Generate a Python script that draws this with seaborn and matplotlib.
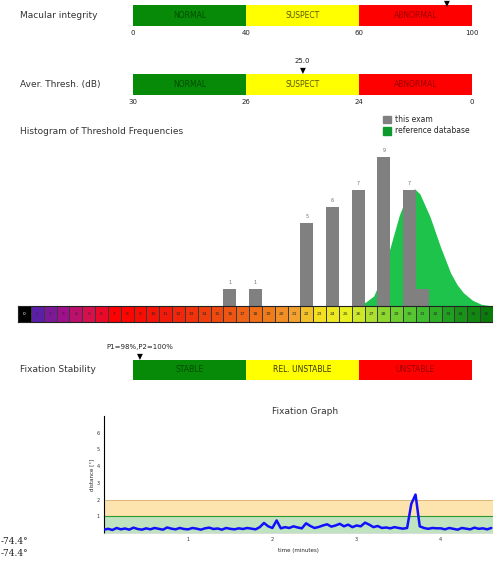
import numpy as np
import seaborn as sns
import matplotlib.pyplot as plt
from matplotlib.colors import LinearSegmentedColormap
from matplotlib.patches import Patch

sns.set_theme(style="white")
plt.rcParams['font.family'] = ['DejaVu Sans']

W, H = 493, 565

macular_ticks = [0, 40, 60, 100]
macular_value = 91
thresh_ticks = [30, 26, 24, 0]
thresh_value = 25.0
stab_ticks = [0, 1, 2, 3]
stab_value = 0.06
stab_text = "P1=98%,P2=100%"

bar_db = [16, 18, 22, 24, 26, 28, 30, 31]
bar_counts = [1, 1, 5, 6, 7, 9, 7, 1]
bar_labels = ["1", "1", "5", "6", "7", "9", "7", ""]

ref_db = [26.0, 26.6, 27.2, 27.6, 28.0, 28.4, 28.8, 29.2, 29.6, 30.0, 30.4, 30.8,
          31.2, 31.6, 32.0, 32.4, 32.8, 33.2, 33.7, 34.2, 34.9, 35.6, 36.5]
ref_h = [0.0, 0.25, 0.6, 1.3, 2.3, 3.3, 4.4, 5.5, 6.3, 6.9, 7.1, 6.8,
         6.1, 5.4, 4.5, 3.6, 2.8, 2.0, 1.3, 0.8, 0.35, 0.1, 0.0]

strip_values = list(range(37))

fix_t = [round(0.05 * i, 2) for i in range(93)]
fix_d = [0.20, 0.25, 0.18, 0.30, 0.22, 0.27, 0.20, 0.32, 0.24, 0.20,
         0.28, 0.22, 0.30, 0.25, 0.20, 0.33, 0.26, 0.22, 0.30, 0.24,
         0.22, 0.30, 0.26, 0.20, 0.28, 0.32, 0.24, 0.27, 0.20, 0.30,
         0.25, 0.22, 0.28, 0.24, 0.30, 0.26, 0.22, 0.35, 0.60, 0.40,
         0.30, 0.75, 0.28, 0.35, 0.30, 0.40, 0.33, 0.28, 0.58, 0.42,
         0.30, 0.36, 0.45, 0.52, 0.38, 0.45, 0.55, 0.40, 0.50, 0.35,
         0.45, 0.40, 0.62, 0.50, 0.35, 0.42, 0.30, 0.33, 0.28, 0.35,
         0.30, 0.26, 0.30, 1.75, 2.30, 0.40, 0.30, 0.25, 0.30, 0.28,
         0.28, 0.22, 0.30, 0.25, 0.20, 0.30, 0.26, 0.22, 0.32, 0.25,
         0.28, 0.22, 0.30]


def rect(x0, y0, x1, y1):
    return [x0 / W, 1 - y1 / H, (x1 - x0) / W, (y1 - y0) / H]


fig = plt.figure(figsize=(W / 100, H / 100), dpi=100)


def scale_bar(y0, y1, title, ticks, seg_text, seg_tcolors, value, vlabel=None):
    ax = fig.add_axes(rect(133, y0, 472, y1))
    cols = ['#078a07', '#ffff00', '#ff0000']
    for i in range(3):
        ax.barh(0, 1 / 3, left=i / 3, height=1, color=cols[i], edgecolor='none')
        ax.text(i / 3 + 1 / 6, 0, seg_text[i], ha='center', va='center',
                fontsize=5.5, color=seg_tcolors[i])
    ax.set_xlim(0, 1)
    ax.set_ylim(-0.5, 0.5)
    ax.axis('off')
    pos = [0, 1 / 3, 2 / 3, 1]
    if ticks is not None:
        for p, t in zip(pos, ticks):
            fig.text((133 + 339 * p) / W, 1 - (y1 + 7) / H, str(t),
                     ha='center', va='center', fontsize=5, color='#222222')
    tv = list(ticks) if ticks is not None else [0, 1, 2, 3]
    if tv[0] > tv[-1]:
        xp = np.interp(value, tv[::-1], pos[::-1])
    else:
        xp = np.interp(value, tv, pos)
    mx = (133 + 339 * xp) / W
    my = max(y0 - 3, 4)
    fig.text(mx, 1 - my / H, u'\u25BC', ha='center', va='center',
             fontsize=5.5, color='black')
    if vlabel:
        fig.text(mx, 1 - (y0 - 13) / H, vlabel, ha='center', va='center',
                 fontsize=5, color='#222222')
    fig.text(20 / W, 1 - ((y0 + y1) / 2) / H, title, ha='left', va='center',
             fontsize=6.5, color='#333333')


scale_bar(5, 26, "Macular integrity", macular_ticks,
          ["NORMAL", "SUSPECT", "ABNORMAL"], ['#004d00', '#5a5a00', '#9a0000'],
          macular_value)
scale_bar(74, 95, "Aver. Thresh. (dB)", thresh_ticks,
          ["NORMAL", "SUSPECT", "ABNORMAL"], ['#004d00', '#5a5a00', '#9a0000'],
          thresh_value, "%.1f" % thresh_value)
scale_bar(360, 380, "Fixation Stability", None,
          ["STABLE", "REL. UNSTABLE", "UNSTABLE"], ['#004d00', '#3a3a00', '#9a0000'],
          stab_value, stab_text)

# --- histogram ---
fig.text(20 / W, 1 - 131 / H, "Histogram of Threshold Frequencies",
         ha='left', va='center', fontsize=6.5, color='#333333')
ax = fig.add_axes(rect(18, 140, 493, 306))
ax.fill_between(ref_db, ref_h, color='#1ec34c', lw=0, zorder=1)
sns.barplot(x=bar_db, y=bar_counts, native_scale=True, width=1.0,
            color='#808080', saturation=1, linewidth=0, edgecolor='none',
            ax=ax, zorder=2)
for d, c, l in zip(bar_db, bar_counts, bar_labels):
    ax.text(d, c + 0.25, l, ha='center', va='bottom', fontsize=3.5, color='#707070')
ax.set_xlim(-0.5, 36.5)
ax.set_ylim(0, 10.06)
ax.axis('off')

fig.legend(handles=[Patch(color='#808080', label='this exam'),
                    Patch(color='#0c9a2c', label='reference database')],
           loc='upper left', bbox_to_anchor=(380 / W, 1 - 112 / H),
           frameon=False, fontsize=5.5, handlelength=1.0, handleheight=1.2,
           handletextpad=0.5, labelspacing=0.3, borderaxespad=0)

# --- colour strip ---
anchors = [(0, '#000000'), (1, '#5b1fa8'), (3, '#a0108a'), (5, '#d8104a'),
           (7, '#ff0000'), (11, '#f21a0a'), (15, '#ee4a10'), (19, '#f07a18'),
           (21, '#f2a030'), (23, '#f4e020'), (25, '#e8f020'), (27, '#b0e030'),
           (29, '#70d030'), (31, '#40c030'), (33, '#20a020'), (36, '#0a7a0a')]
cmap = LinearSegmentedColormap.from_list('maia', [(p / 36, c) for p, c in anchors])
sax = fig.add_axes(rect(18, 306, 493, 322))
sns.heatmap(np.array(strip_values).reshape(1, -1), cmap=cmap, vmin=0, vmax=36,
            cbar=False, annot=True, fmt='d', linewidths=0.5, linecolor='#3a3a3a',
            annot_kws={'fontsize': 3.2, 'color': '#2a2a2a'}, ax=sax)
sax.texts[0].set_color('white')
sax.set_xticks([])
sax.set_yticks([])
for s in sax.spines.values():
    s.set_visible(True)
    s.set_color('#222222')
    s.set_linewidth(0.8)

# --- fixation graph ---
fig.text(305 / W, 1 - 412 / H, "Fixation Graph", ha='center', va='center',
         fontsize=6.5, color='#333333')
fax = fig.add_axes(rect(104, 416, 493, 533))
fax.axhspan(0, 1, color='#bfe3c0', lw=0, zorder=0)
fax.axhspan(1, 2, color='#fde3ae', lw=0, zorder=0)
fax.axhline(1, color='#2e9a2e', lw=0.8, zorder=1)
fax.axhline(2, color='#d8b070', lw=0.6, zorder=1)
sns.lineplot(x=fix_t, y=fix_d, color='#1010ff', lw=1.8, ax=fax, zorder=3)
fax.set_xlim(0, 4.62)
fax.set_ylim(0, 7)
fax.set_yticks([1, 2, 3, 4, 5, 6])
fax.set_xticks([1, 2, 3, 4])
fax.tick_params(labelsize=3.5, length=2, width=0.5, pad=1, colors='#333333')
fax.set_ylabel("distance [\u00b0]", fontsize=4, labelpad=2)
fax.set_xlabel("time (minutes)", fontsize=4, labelpad=4)
for k in ['top', 'right']:
    fax.spines[k].set_visible(False)
fax.spines['left'].set_color('black')
fax.spines['left'].set_linewidth(0.8)
fax.spines['bottom'].set_color('#cccccc')
fax.spines['bottom'].set_linewidth(0.5)

fig.text(1 / W, 1 - 541 / H, "-74.4\u00b0", ha='left', va='center',
         fontsize=6.5, family='DejaVu Serif', color='#222222')
fig.text(1 / W, 1 - 554 / H, "-74.4\u00b0", ha='left', va='center',
         fontsize=6.5, family='DejaVu Serif', color='#222222')

fig.savefig('out.png', dpi=100)
